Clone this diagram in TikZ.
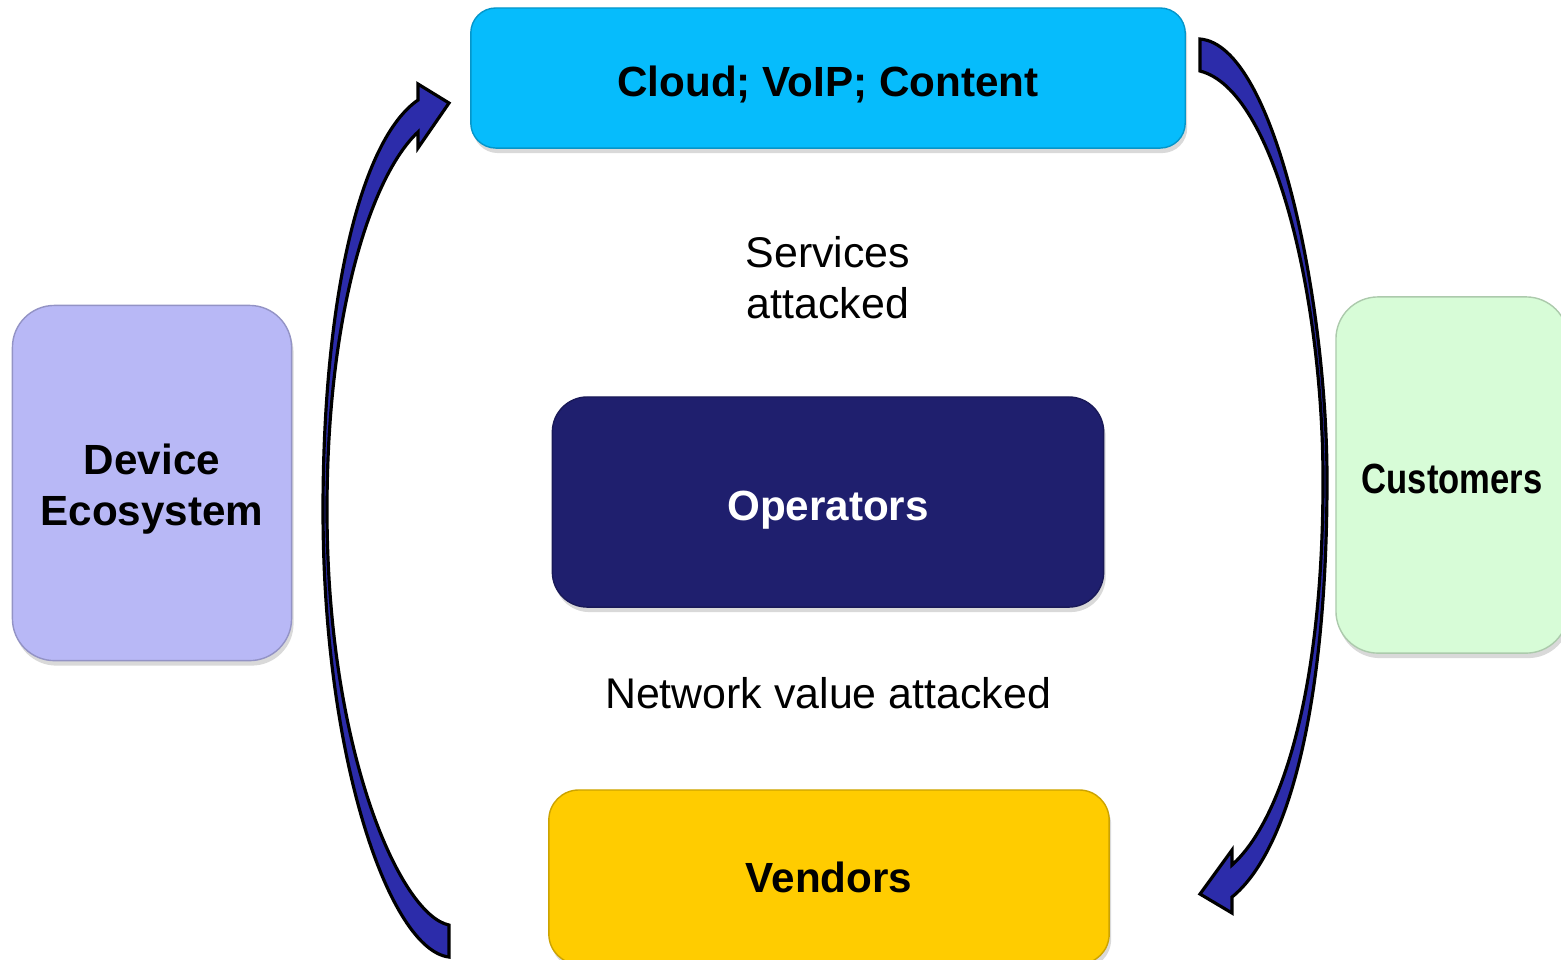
\documentclass[tikz,border=0pt]{standalone}
\usepackage{fontspec}
\setmainfont{Liberation Sans}
\usepackage{xcolor}
\usetikzlibrary{positioning,shadows}

\definecolor{cloudblue}{RGB}{6,188,252}
\definecolor{devicelilac}{RGB}{184,184,246}
\definecolor{opnavy}{RGB}{31,31,110}
\definecolor{custgreen}{RGB}{215,252,215}
\definecolor{vendyellow}{RGB}{255,204,0}
\definecolor{arrowblue}{RGB}{44,44,170}

\begin{document}
\begin{tikzpicture}[
  x=0.01cm, y=-0.01cm,
  box/.style={rectangle, rounded corners=0.25cm, draw=#1!80!black, line width=0.4pt,
              fill=#1, font=\fontsize{12}{14.5}\selectfont\bfseries, align=center,
              drop shadow={shadow xshift=0.02cm, shadow yshift=-0.05cm, opacity=0.3}},
  lowtext/.style={text height=0.47cm, text depth=0.1cm},
  bigarrow/.style={fill=arrowblue, draw=black, line width=0.9pt, line join=miter},
  label/.style={font=\fontsize{12.2}{14.5}\selectfont, align=center}
]
\useasboundingbox (0,0) rectangle (1561,959);

% Boxes
\node[box=cloudblue, lowtext, minimum width=7.14cm, minimum height=1.40cm] (cloud) at (828,78) {Cloud; VoIP; Content};
\node[box=devicelilac, rounded corners=0.42cm, minimum width=2.79cm, minimum height=3.55cm] (device) at (152,483) {\rule{0pt}{12.2pt}Device\\Ecosystem};
\node[box=opnavy, lowtext, text=white, rounded corners=0.35cm, minimum width=5.51cm, minimum height=2.10cm] (operators) at (828,502) {Operators};
\node[box=custgreen, lowtext, rounded corners=0.42cm, minimum width=2.32cm, minimum height=3.56cm] (customers) at (1452,475) {\scalebox{0.82}[1]{Customers}};
\node[box=vendyellow, rounded corners=0.30cm, minimum width=5.60cm, minimum height=1.74cm] (vendors) at (829,877) {Vendors};

% Arrows
\filldraw[bigarrow] (449,957) .. controls (390,950) and (323,760) .. (323,510)
  .. controls (323,300) and (360,140) .. (418,100) -- (418,84) -- (449,103)
  -- (418,148) -- (418,132) .. controls (372,175) and (327,310) .. (327,510)
  .. controls (327,750) and (400,915) .. (449,925) -- cycle;
\filldraw[bigarrow] (1200,39) .. controls (1275,45) and (1327,300) .. (1327,480)
  .. controls (1327,700) and (1290,850) .. (1232,897) -- (1232,913) -- (1200,894)
  -- (1232,850) -- (1232,865) .. controls (1282,820) and (1323,690) .. (1323,480)
  .. controls (1323,300) and (1275,90) .. (1200,71) -- cycle;

% Labels
\node[label] (services) at (828,278) {Services\\attacked};
\node[label] (netvalue) at (828,693) {Network value attacked};
\end{tikzpicture}
\end{document}
